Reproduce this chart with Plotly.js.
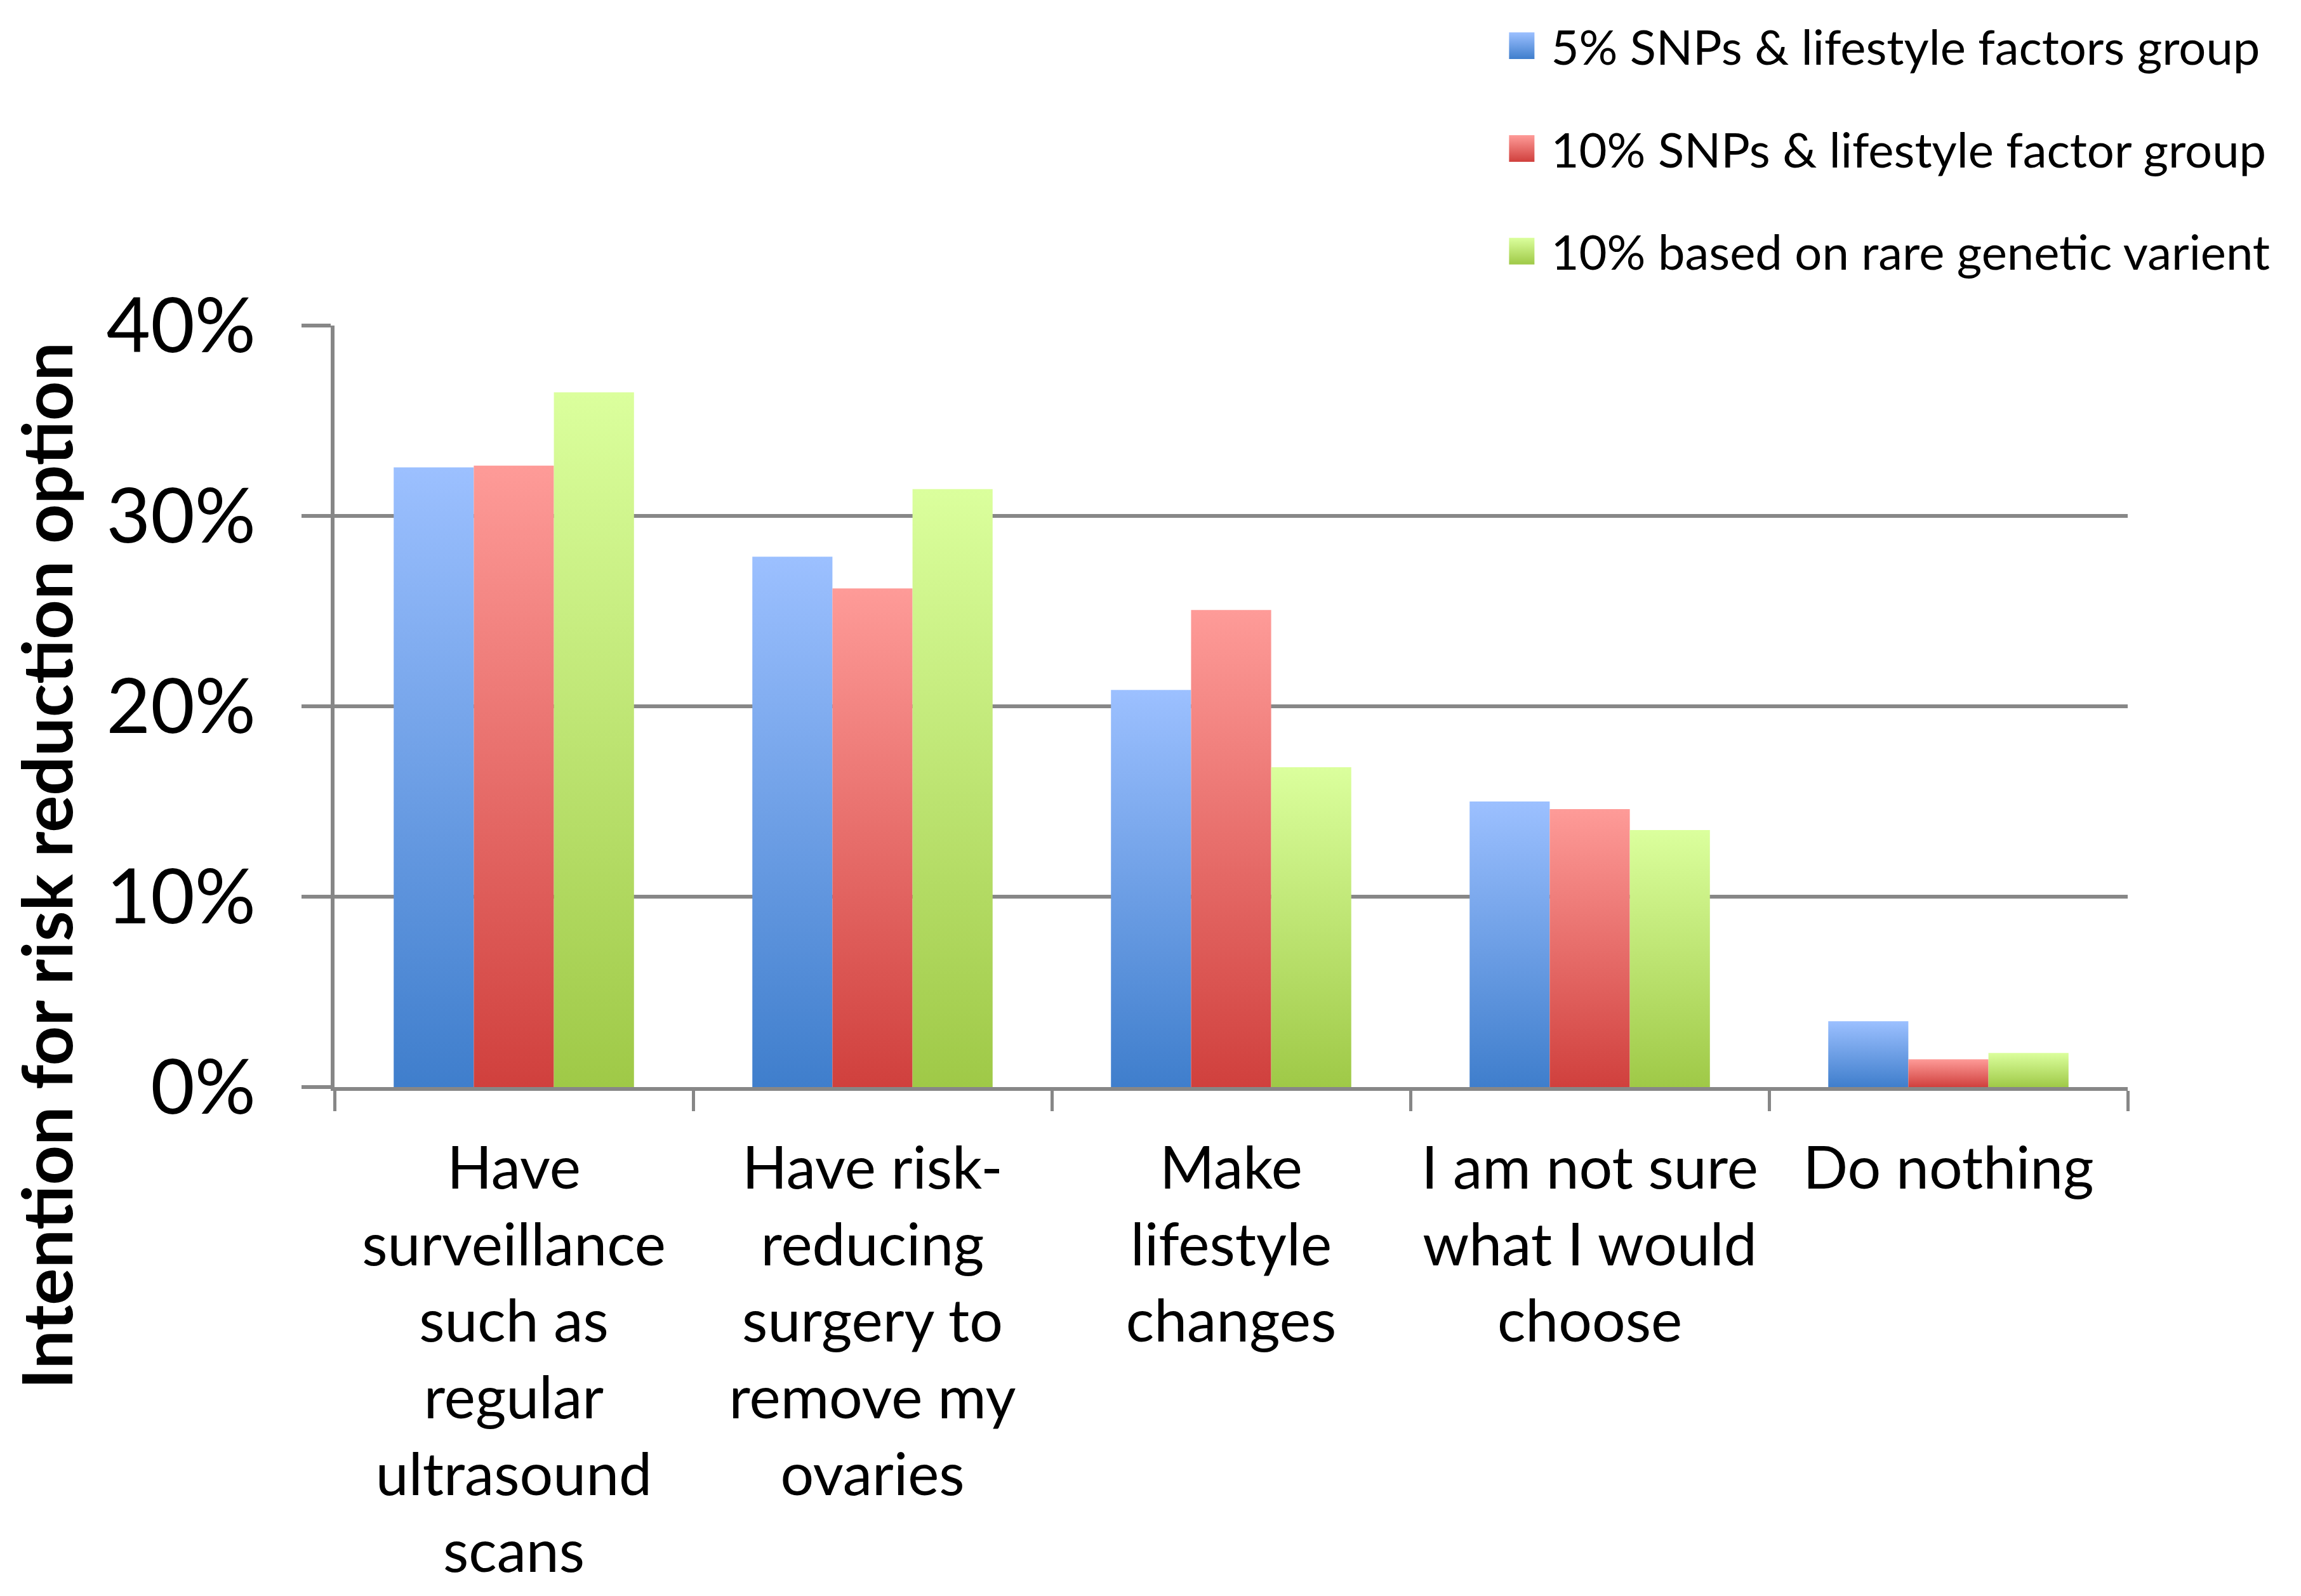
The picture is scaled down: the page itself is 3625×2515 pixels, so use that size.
<!DOCTYPE html>
<html>
<head>
<meta charset="utf-8">
<script src="https://cdn.plot.ly/plotly-3.0.1.min.js"></script>
<style>
  html, body { margin: 0; padding: 0; background: #ffffff; }
  #chart { width: 3625px; height: 2515px; }
</style>
</head>
<body>
<div id="chart"></div>
<script>
// categories (x axis)
const categories = [
  "Have<br>surveillance<br>such as<br>regular<br>ultrasound<br>scans",
  "Have risk-<br>reducing<br>surgery to<br>remove my<br>ovaries",
  "Make<br>lifestyle<br>changes",
  "I am not sure<br>what I would<br>choose",
  "Do nothing"
];

const seriesNames = [
  "5% SNPs & lifestyle factors group",
  "10% SNPs & lifestyle factor group",
  "10% based on rare genetic varient"
];

// values (fractions)
const snp5Values = [0.3255, 0.2786, 0.2086, 0.150, 0.0346];
const snp10Values = [0.3264, 0.2619, 0.2506, 0.146, 0.0146];
const rareValues = [0.3649, 0.3141, 0.168, 0.135, 0.0179];

const yTicks = [0, 0.1, 0.2, 0.3, 0.4];

// gradient colours, top -> bottom
const topColors = ["#9cc0ff", "#fe9b98", "#dbff9d"];
const bottomColors = ["#3f7ecc", "#d0403d", "#9fc947"];
const midColors = ["#6f9fe6", "#e8706b", "#bde372"];

const font = "Lato, 'Open Sans', sans-serif";
const grey = "#878787";

const allValues = [snp5Values, snp10Values, rareValues];
let data = [];
for (let i = 0; i < allValues.length; i++) {
  data.push({
    type: "bar",
    x: categories,
    y: allValues[i],
    name: seriesNames[i],
    legendgroup: "g" + i,
    marker: { color: midColors[i], line: { width: 0 } },
    hoverinfo: "none"
  });
}

const layout = {
  width: 3625,
  height: 2515,
  paper_bgcolor: "#ffffff",
  plot_bgcolor: "#ffffff",
  margin: { l: 527, r: 273, t: 513, b: 802 },
  font: { family: font, color: "#000000" },
  barmode: "group",
  bargap: 0.33,
  bargroupgap: 0,
  showlegend: true,
  legend: {
    x: 0.655,
    y: 1.414,
    xanchor: "left",
    yanchor: "top",
    font: { size: 76, family: font, color: "#000000" },
    tracegroupgap: 60,
    itemwidth: 56,
    bgcolor: "rgba(0,0,0,0)"
  },
  xaxis: {
    type: "category",
    tickson: "boundaries",
    ticks: "outside",
    ticklen: 32,
    tickwidth: 5,
    tickcolor: grey,
    showline: true,
    linecolor: grey,
    linewidth: 6,
    showgrid: false,
    tickfont: { size: 93, family: font, color: "#000000" },
    ticklabelstandoff: 42,
    automargin: false
  },
  yaxis: {
    range: [0, 0.4],
    tickvals: yTicks,
    tickformat: ".0%",
    ticks: "outside",
    ticklen: 46,
    tickwidth: 6,
    tickcolor: grey,
    showline: true,
    linecolor: grey,
    linewidth: 6,
    showgrid: true,
    gridcolor: grey,
    gridwidth: 6,
    zeroline: false,
    tickfont: { size: 120, family: font, color: "#000000" },
    ticklabelstandoff: 48,
    automargin: false
  },
  annotations: [
    {
      text: "<b>Intention for risk reduction option</b>",
      xref: "paper",
      yref: "paper",
      x: -0.161,
      y: 0.291,
      xanchor: "center",
      yanchor: "middle",
      textangle: -90,
      showarrow: false,
      font: { size: 109, family: font, color: "#000000" }
    }
  ]
};

const gd = document.getElementById("chart");

const addGradients = () => {
  const ns = "http://www.w3.org/2000/svg";
  const svg = gd.querySelector("svg.main-svg");
  let defs = svg.querySelector("defs");
  if (!defs) {
    defs = document.createElementNS(ns, "defs");
    svg.insertBefore(defs, svg.firstChild);
  }
  for (let i = 0; i < topColors.length; i++) {
    const grad = document.createElementNS(ns, "linearGradient");
    grad.setAttribute("id", "barGrad" + i);
    grad.setAttribute("x1", "0");
    grad.setAttribute("y1", "0");
    grad.setAttribute("x2", "0");
    grad.setAttribute("y2", "1");
    const s1 = document.createElementNS(ns, "stop");
    s1.setAttribute("offset", "0");
    s1.setAttribute("stop-color", topColors[i]);
    const s2 = document.createElementNS(ns, "stop");
    s2.setAttribute("offset", "1");
    s2.setAttribute("stop-color", bottomColors[i]);
    grad.appendChild(s1);
    grad.appendChild(s2);
    defs.appendChild(grad);
  }

  // bars
  const traces = gd.querySelectorAll(".barlayer .trace");
  traces.forEach((t, i) => {
    t.querySelectorAll(".point path").forEach((p) => {
      p.style.fill = "url(#barGrad" + i + ")";
    });
  });

  // legend icons: bigger square like the original, a bit left of the text
  const legendTraces = gd.querySelectorAll(".legend .traces");
  legendTraces.forEach((t, i) => {
    t.querySelectorAll(".legendpoints path").forEach((p) => {
      p.style.fill = "url(#barGrad" + i + ")";
      p.style.stroke = "none";
      p.setAttribute("d", "M-35,-21H7V21H-35Z");
    });
  });
};

Plotly.newPlot(gd, data, layout, { staticPlot: true, displayModeBar: false }).then(addGradients);
</script>
</body>
</html>
